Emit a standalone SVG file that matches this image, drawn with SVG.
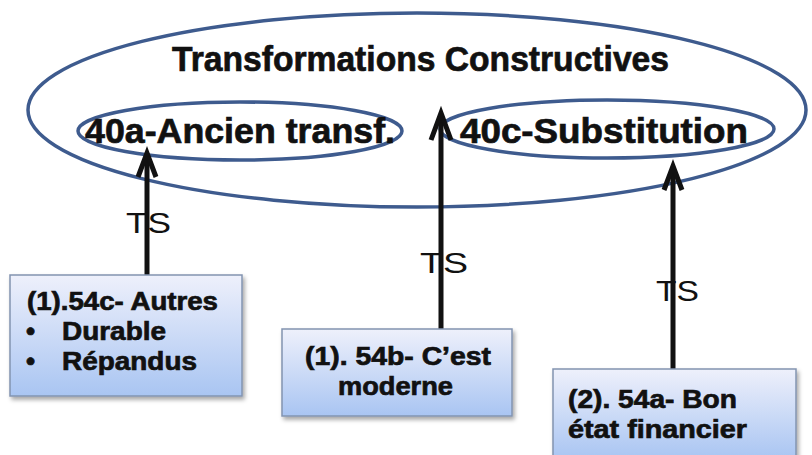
<svg xmlns="http://www.w3.org/2000/svg" width="812" height="455" viewBox="0 0 812 455">
<defs>
<linearGradient id="boxg" x1="0" y1="0" x2="0" y2="1">
<stop offset="0" stop-color="#eef0fb"/>
<stop offset="1" stop-color="#a9c5f2"/>
</linearGradient>
<filter id="sh" x="-10%" y="-10%" width="130%" height="140%">
<feDropShadow dx="2" dy="3" stdDeviation="2" flood-color="#000" flood-opacity="0.35"/>
</filter>
</defs>
<style>
.ell{fill:none;stroke:#3e5b8e;stroke-width:3.5}
.box{fill:url(#boxg);stroke:#8294b0;stroke-width:1.5;filter:url(#sh)}
.t{font-family:"Liberation Sans",Arial,sans-serif;font-weight:bold;fill:#111;stroke:#111;stroke-width:0.7}
.big{font-size:35px}
.bx{font-size:26px}
.ts{font-family:"Liberation Sans",Arial,sans-serif;font-size:30px;fill:#111}
.ln{stroke:#111;stroke-width:5;fill:none}
.hd{stroke:#111;stroke-width:5;fill:none;stroke-linecap:butt;stroke-linejoin:miter}
</style>
<rect width="812" height="455" fill="#fff"/>
<g id="outer">
<ellipse class="ell" cx="417" cy="110" rx="389" ry="97"/>
<text class="t big" x="172" y="71" textLength="497" lengthAdjust="spacingAndGlyphs">Transformations  Constructives</text>
</g>
<g id="n40a">
<ellipse class="ell" cx="240" cy="131" rx="162" ry="29"/>
<text class="t big" x="85" y="143" textLength="310" lengthAdjust="spacingAndGlyphs">40a-Ancien transf.</text>
</g>
<g id="n40c">
<ellipse class="ell" cx="607" cy="129" rx="167" ry="29"/>
<text class="t big" x="460" y="143" textLength="288" lengthAdjust="spacingAndGlyphs">40c-Substitution</text>
</g>
<g id="connectors">
<text class="ts" x="126" y="233" textLength="45" lengthAdjust="spacingAndGlyphs">TS</text>
<text class="ts" x="420" y="273" textLength="48" lengthAdjust="spacingAndGlyphs">TS</text>
<text class="ts" x="656" y="301" textLength="43" lengthAdjust="spacingAndGlyphs">TS</text>
<line class="ln" x1="147" y1="275" x2="147" y2="156"/>
<polyline class="hd" points="138,177 147,153 156,177"/>
<line class="ln" x1="441" y1="330" x2="441" y2="116"/>
<polyline class="hd" points="431,140 441,113 451,140"/>
<line class="ln" x1="673" y1="369" x2="673" y2="170"/>
<polyline class="hd" points="664,190 673,166 682,190"/>
</g>
<g id="n54c">
<rect class="box" x="10" y="275" width="232" height="121"/>
<text class="t bx" x="27" y="310" textLength="191" lengthAdjust="spacingAndGlyphs">(1).54c- Autres</text>
<text class="t bx" x="26" y="340">•</text>
<text class="t bx" x="62" y="340" textLength="104" lengthAdjust="spacingAndGlyphs">Durable</text>
<text class="t bx" x="26" y="370">•</text>
<text class="t bx" x="62" y="370" textLength="135" lengthAdjust="spacingAndGlyphs">Répandus</text>
</g>
<g id="n54b">
<rect class="box" x="282" y="329" width="230" height="87"/>
<text class="t bx" x="305" y="365" textLength="186" lengthAdjust="spacingAndGlyphs">(1). 54b- C’est</text>
<text class="t bx" x="338" y="395" textLength="115" lengthAdjust="spacingAndGlyphs">moderne</text>
</g>
<g id="n54a">
<rect class="box" x="553" y="369" width="243" height="90"/>
<text class="t bx" x="568" y="408" textLength="169" lengthAdjust="spacingAndGlyphs">(2). 54a- Bon</text>
<text class="t bx" x="568" y="438" textLength="179" lengthAdjust="spacingAndGlyphs">état  financier</text>
</g>
</svg>
